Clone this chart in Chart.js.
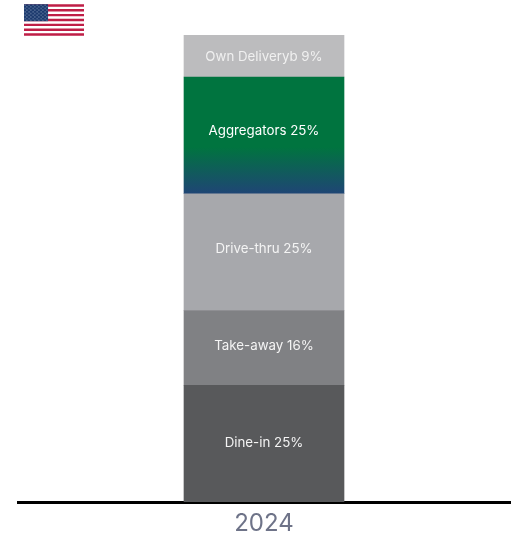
<!DOCTYPE html>
<html>
<head>
<meta charset="utf-8">
<style>
  html, body { margin: 0; padding: 0; background: #fff; }
  #wrap { position: relative; width: 518px; height: 535px; }
  #flag { position: absolute; left: 24px; top: 4px; }
</style>
</head>
<body>
<div id="wrap">
  <canvas id="channelChart" width="518" height="535"></canvas>
  <svg id="flag" width="60" height="32" viewBox="0 0 247 130">
    <defs>
      <pattern id="stars" width="16.5" height="14" patternUnits="userSpaceOnUse">
        <circle cx="4" cy="3.5" r="2.4" fill="#8fa3c0"/>
        <circle cx="12.2" cy="10.5" r="2.4" fill="#8fa3c0"/>
      </pattern>
    </defs>
    <rect width="247" height="130" fill="#fff"/>
    <path d="M0 5h247M0 25h247M0 45h247M0 65h247M0 85h247M0 105h247M0 125h247" stroke="#bf1e46" stroke-width="10"/>
    <rect width="99" height="70" fill="#1c3a6e"/>
    <rect width="99" height="70" fill="url(#stars)"/>
  </svg>
</div>
<script src="https://cdn.jsdelivr.net/npm/chart.js@4"></script>
<script>
const years = ["2024"];
const channels = ["Dine-in", "Take-away", "Drive-thru", "Aggregators", "Own Deliveryb"];
const shares = [25, 16, 25, 25, 9];
const channelColors = ["#58595b", "#808184", "#a7a8ac", "#00743f", "#bcbcbe"];
const labelColors = ["#f4f4f4", "#f4f4f4", "#f4f4f4", "#ffffff", "#f0f0f0"];

// Aggregators fades from green into blue near its lower edge
function segmentFill(ctx) {
  const i = ctx.datasetIndex;
  if (channels[i] !== "Aggregators") return channelColors[i];
  const scale = ctx.chart.scales.y;
  const below = shares.slice(0, i).reduce((a, b) => a + b, 0);
  const top = scale ? scale.getPixelForValue(below + shares[i]) : NaN;
  const bottom = scale ? scale.getPixelForValue(below) : NaN;
  if (!isFinite(top) || !isFinite(bottom)) return channelColors[i];
  const g = ctx.chart.ctx.createLinearGradient(0, top, 0, bottom);
  g.addColorStop(0, "#00743f");
  g.addColorStop(0.6, "#00743f");
  g.addColorStop(1, "#1f4575");
  return g;
}

// vertical nudge for each label, bottom segment first
const labelNudge = [-1, -2, -3, -4, 1];

const segmentLabels = {
  id: "segmentLabels",
  afterDatasetsDraw(chart) {
    const c = chart.ctx;
    c.save();
    c.font = "13.3px Inter";
    c.textAlign = "center";
    c.textBaseline = "middle";
    chart.data.datasets.forEach((ds, i) => {
      const bar = chart.getDatasetMeta(i).data[0];
      c.fillStyle = labelColors[i];
      c.fillText(ds.label + " " + ds.data[0] + "%", bar.x, (bar.y + bar.base) / 2 + labelNudge[i]);
    });
    c.restore();
  },
};

new Chart(document.getElementById("channelChart").getContext("2d"), {
  type: "bar",
  data: {
    labels: years,
    datasets: channels.map((name, i) => ({
      label: name,
      data: [shares[i]],
      backgroundColor: segmentFill,
      borderWidth: 0,
      barThickness: 160,
    })),
  },
  options: {
    responsive: false,
    animation: false,
    layout: { padding: { left: 18, right: 8, top: 35, bottom: 0 } },
    plugins: { legend: { display: false }, tooltip: { enabled: false } },
    scales: {
      x: {
        stacked: true,
        grid: { display: false, drawTicks: false },
        border: { color: "#000", width: 3 },
        ticks: { color: "#6e7388", font: { family: "Inter", size: 24 }, padding: 7 },
        afterFit: (scale) => { scale.height = 33; },
      },
      y: { stacked: true, display: false, min: 0, max: 100 },
    },
  },
  plugins: [segmentLabels],
});
</script>
</body>
</html>
